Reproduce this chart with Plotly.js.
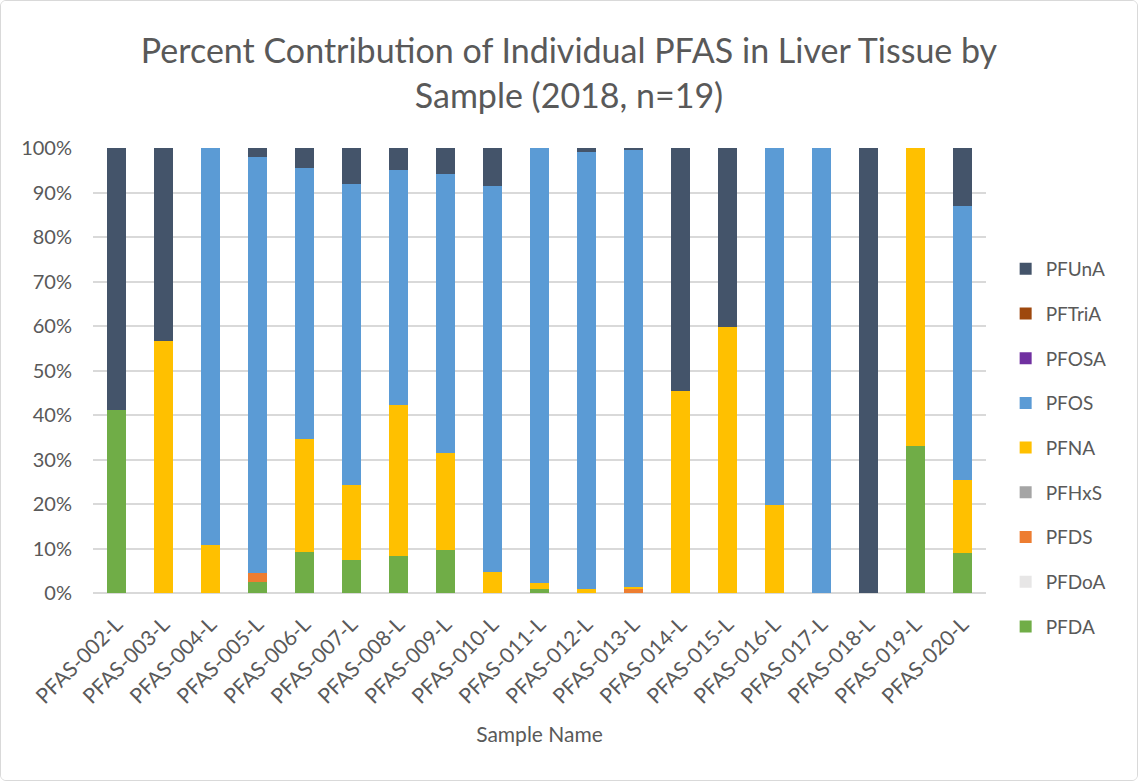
<!DOCTYPE html>
<html><head><meta charset="utf-8">
<script src="https://cdn.plot.ly/plotly-3.0.1.min.js"></script>
<style>html,body{margin:0;padding:0;background:#fff;}#wrap{position:absolute;left:0;top:0;width:1136px;height:779px;border:1px solid #d9d9d9;border-radius:6px;overflow:hidden;}#chart{width:1136px;height:779px;}</style>
</head><body><div id="wrap"><div id="chart"></div></div>
<script>
const samples = ["PFAS-002-L","PFAS-003-L","PFAS-004-L","PFAS-005-L","PFAS-006-L","PFAS-007-L","PFAS-008-L","PFAS-009-L","PFAS-010-L","PFAS-011-L","PFAS-012-L","PFAS-013-L","PFAS-014-L","PFAS-015-L","PFAS-016-L","PFAS-017-L","PFAS-018-L","PFAS-019-L","PFAS-020-L"];
const PFDA  = [41.2,0,0,2.4,9.3,7.5,8.4,9.7,0,1.0,0,0,0,0,0,0,0,33.0,9.0];
const PFDoA = [0,0,0,0,0,0,0,0,0,0,0,0,0,0,0,0,0,0,0];
const PFDS  = [0,0,0,2.1,0,0,0,0,0,0,0,1.0,0,0,0,0,0,0,0];
const PFHxS = [0,0,0,0,0,0,0,0,0,0,0,0,0,0,0,0,0,0,0];
const PFNA  = [0,56.7,10.7,0,25.3,16.8,33.9,21.7,4.8,1.3,0.8,0.3,45.3,59.8,19.8,0,0,67.0,16.4];
const PFOS  = [0,0,89.3,93.4,60.8,67.6,52.7,62.7,86.6,97.7,98.3,98.4,0,0,80.2,100,0,0,61.5];
const PFOSA = [0,0,0,0,0,0,0,0,0,0,0,0,0,0,0,0,0,0,0];
const PFTriA= [0,0,0,0,0,0,0,0,0,0,0,0,0,0,0,0,0,0,0];
const PFUnA = [58.8,43.3,0,2.1,4.6,8.1,5.0,5.9,8.6,0,0.9,0.3,54.7,40.2,0,0,100,0,13.1];

const series = [
  ["PFDA", PFDA, "#70AD47"],
  ["PFDoA", PFDoA, "#E7E6E6"],
  ["PFDS", PFDS, "#ED7D31"],
  ["PFHxS", PFHxS, "#A5A5A5"],
  ["PFNA", PFNA, "#FFC000"],
  ["PFOS", PFOS, "#5B9BD5"],
  ["PFOSA", PFOSA, "#7030A0"],
  ["PFTriA", PFTriA, "#9E480E"],
  ["PFUnA", PFUnA, "#44546A"]
];
const traces = series.map(([name, vals, color], i) => ({
  type: "bar", name: name, x: samples, y: vals.map(v => v/100),
  marker: {color: color, line: {width: 0}}, legendgroup: name,
  legendrank: 1000 - i,
  hovertemplate: name + ": %{y:.1%}<extra></extra>"
}));
const font = "Lato, 'Open Sans', sans-serif";
const layout = {
  width: 1136, height: 779,
  barmode: "stack", bargap: 0.59,
  paper_bgcolor: "#fff", plot_bgcolor: "#fff",
  margin: {l: 92, r: 151, t: 147, b: 187},
  font: {family: font, color: "#595959", size: 19},
  title: {text: "Percent Contribution of Individual PFAS in Liver Tissue by<br>Sample (2018, n=19)",
          font: {family: font, size: 34, color: "#595959"},
          x: 0.5, xanchor: "center", xref: "container", y: 0.92, yref: "container", yanchor: "middle"},
  xaxis: {tickangle: -45, showgrid: false, showline: false, zeroline: false, ticks: "",
          ticklabelstandoff: 14,
          tickfont: {size: 21, color: "#595959"},
          title: {text: "Sample Name", font: {size: 21, color: "#595959"}, standoff: 20}},
  yaxis: {range: [0, 1], tickformat: ".0%", dtick: 0.1, showgrid: true, gridcolor: "#d9d9d9", gridwidth: 1.5,
          zeroline: true, zerolinecolor: "#d9d9d9", zerolinewidth: 1.5, showline: false, ticks: "",
          ticklabelstandoff: 20, tickfont: {size: 20, color: "#595959"}},
  legend: {traceorder: "grouped", x: 1.022, xanchor: "left", y: 0.326, yanchor: "middle",
           tracegroupgap: 17, font: {size: 19, color: "#595959"}, bgcolor: "rgba(0,0,0,0)"},
  showlegend: true
};
Plotly.newPlot("chart", traces, layout, {displayModeBar: false, staticPlot: false});
</script></body></html>
